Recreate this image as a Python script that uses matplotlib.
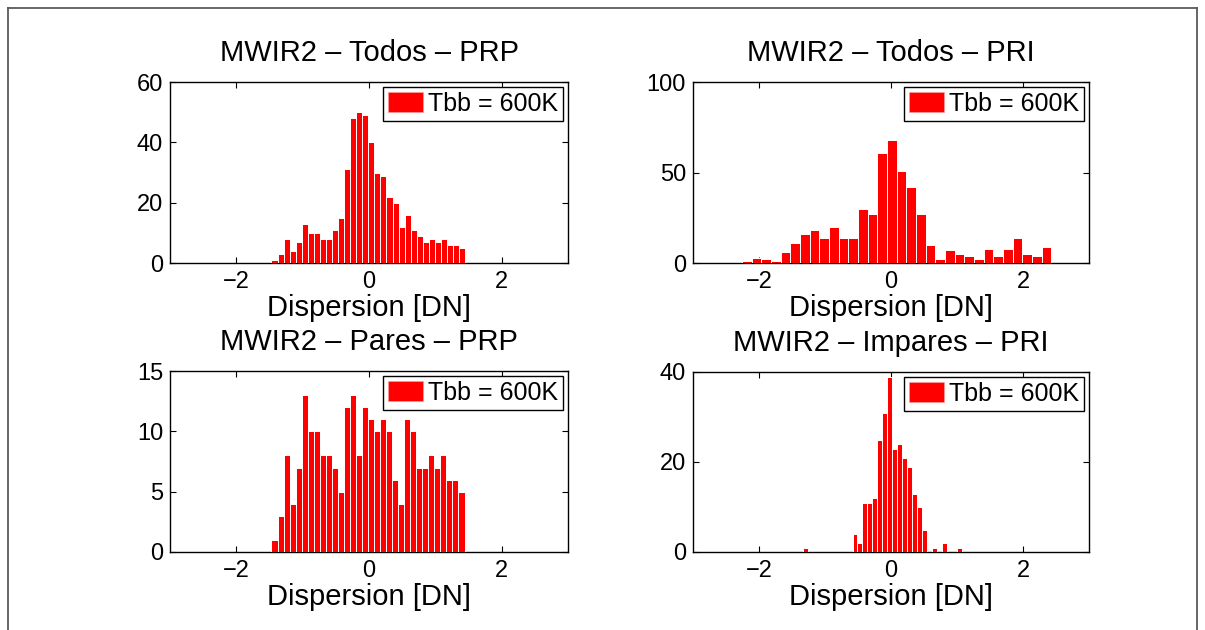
import numpy as np
import matplotlib
matplotlib.use("Agg")
import matplotlib.pyplot as plt
from matplotlib.patches import Patch
from matplotlib.lines import Line2D

plt.rcParams['font.family'] = ['Liberation Sans', 'DejaVu Sans']

# ---- data (histogram counts, 32 bins each) ----
todos_prp_counts = [1, 3, 8, 4, 7, 13, 10, 10, 8, 8, 11, 15, 31, 48, 50, 49,
                    40, 30, 29, 22, 20, 12, 16, 11, 9, 7, 8, 7, 8, 6, 6, 5]
todos_prp_range = (-1.47, 1.45)

todos_pri_counts = [1, 3, 2, 1, 6, 11, 16, 18, 14, 20, 14, 14, 30, 27, 61, 68,
                    51, 42, 27, 10, 2, 7, 5, 4, 2, 8, 4, 8, 14, 5, 4, 9]
todos_pri_range = (-2.26, 2.43)

pares_prp_counts = [1, 3, 8, 4, 7, 13, 10, 10, 8, 8, 7, 5, 12, 13, 8, 12,
                    11, 10, 11, 10, 6, 4, 11, 10, 7, 7, 8, 7, 8, 6, 6, 5]
pares_prp_range = (-1.47, 1.44)

impares_pri_counts = [1, 0, 0, 0, 0, 0, 0, 0, 0, 0, 4, 2, 11, 11, 12, 25,
                      31, 39, 23, 24, 21, 19, 13, 10, 5, 0, 1, 0, 2, 0, 0, 1]
impares_pri_range = (-1.337, 1.075)

titles = ["MWIR2 – Todos – PRP", "MWIR2 – Todos – PRI",
          "MWIR2 – Pares – PRP", "MWIR2 – Impares – PRI"]
xlabel = "Dispersion [DN]"
legend_label = "Tbb = 600K"
xticks = [-2, 0, 2]
yticks_list = [[0, 20, 40, 60], [0, 50, 100], [0, 5, 10, 15], [0, 20, 40]]

panels = [(todos_prp_counts, todos_prp_range),
          (todos_pri_counts, todos_pri_range),
          (pares_prp_counts, pares_prp_range),
          (impares_pri_counts, impares_pri_range)]

W, H = 1205, 630
fig = plt.figure(figsize=(W / 100, H / 100), dpi=100)

# axes boxes in pixels: (left, top, right, bottom)
boxes = [(170, 82, 568, 263), (693, 82, 1089, 263),
         (170, 371, 568, 552), (693, 372, 1089, 552)]

# outer frame
frame_col = '#5a5a5a'
fig.add_artist(Line2D([8 / W, 8 / W], [0, 1 - 8 / H], transform=fig.transFigure, color=frame_col, lw=1.3))
fig.add_artist(Line2D([8 / W, 1197 / W], [1 - 8 / H, 1 - 8 / H], transform=fig.transFigure, color=frame_col, lw=1.3))
fig.add_artist(Line2D([1197 / W, 1197 / W], [0, 1 - 8 / H], transform=fig.transFigure, color=frame_col, lw=1.3))

for (counts, (lo, hi)), title, yt, (l, t, r, b) in zip(panels, titles, yticks_list, boxes):
    ax = fig.add_axes([l / W, 1 - b / H, (r - l) / W, (b - t) / H])
    n = len(counts)
    edges = np.linspace(lo, hi, n + 1)
    centers = 0.5 * (edges[:-1] + edges[1:])
    width = edges[1] - edges[0]
    ax.bar(centers, counts, width=width, color='#ff0000', edgecolor='white',
           linewidth=0.7, zorder=3)
    ax.set_xlim(-3, 3)
    ax.set_ylim(yt[0], yt[-1])
    ax.set_xticks(xticks)
    ax.set_xticklabels([("−%d" % abs(v)) if v < 0 else str(v) for v in xticks])
    ax.set_yticks(yt)
    ax.tick_params(direction='in', length=4, width=0.8, top=True, right=True,
                   labelsize=17, pad=5)
    ax.tick_params(axis='x', pad=6)
    for s in ax.spines.values():
        s.set_linewidth(1.0)
    ax.set_title(title, fontsize=21, pad=15)
    ax.set_xlabel(xlabel, fontsize=21, labelpad=0.5)
    leg = ax.legend([Patch(facecolor='#ff0000', edgecolor='#ff9999', lw=0.5)],
                    [legend_label], loc='upper right', fontsize=18,
                    fancybox=False, framealpha=1, edgecolor='black',
                    handlelength=1.4, handleheight=0.85, handletextpad=0.2,
                    borderpad=0.2, borderaxespad=0.2)
    leg.get_frame().set_linewidth(1.0)
    leg.set_zorder(5)

fig.savefig("out.png", dpi=100)
